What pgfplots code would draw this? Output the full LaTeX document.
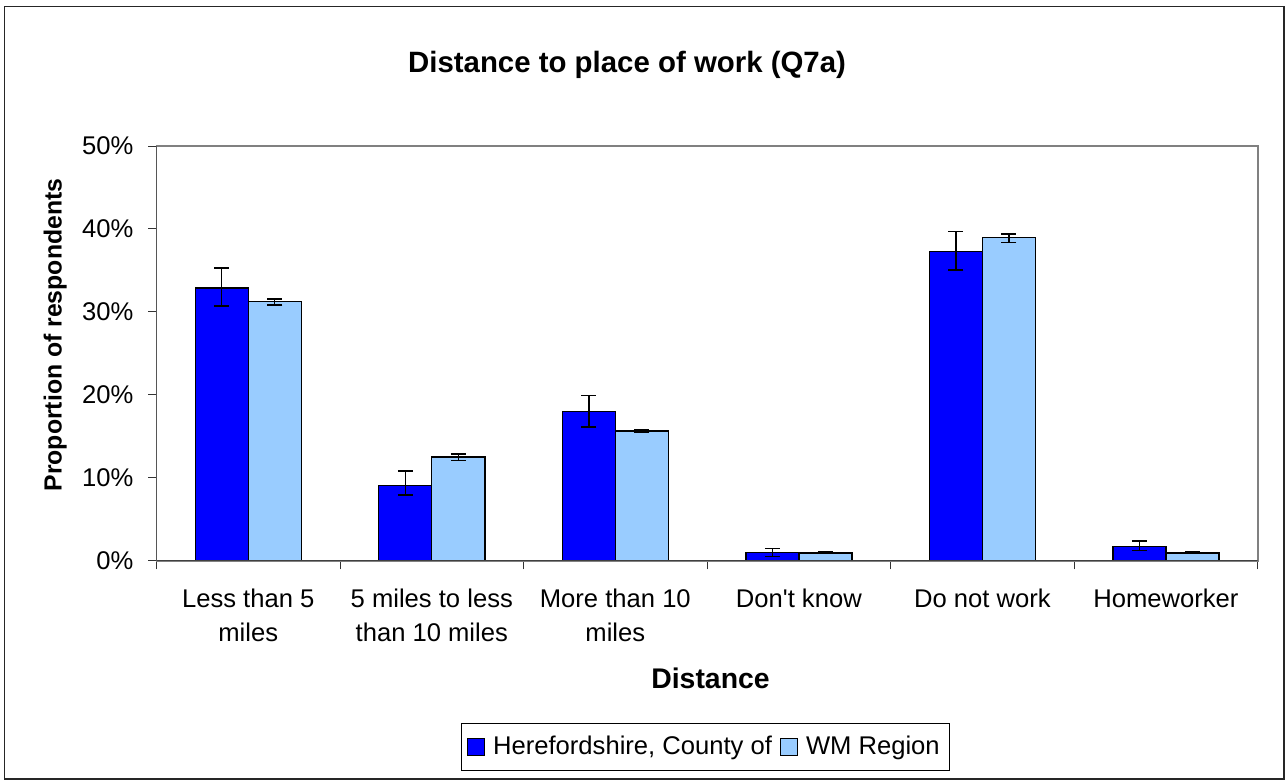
\documentclass[border=0pt]{standalone}
\usepackage{pgfplots}
\pgfplotsset{compat=1.18}
\usepackage{fontspec}
\setmainfont{Liberation Sans}
\definecolor{hblue}{HTML}{0000FF}
\definecolor{wmblue}{HTML}{99CCFF}
\definecolor{pgray}{HTML}{808080}
\begin{document}
\begin{tikzpicture}
\path (0,0) rectangle (643pt,391.5pt);
\draw[black!85, line width=0.6pt] (2.35pt,2pt) rectangle (642pt,388.15pt);
\begin{axis}[
  at={(78.25pt,111.15pt)}, anchor=south west,
  scale only axis, width=550.6pt, height=207.35pt,
  xmin=-0.5, xmax=5.5, ymin=0, ymax=50,
  ybar=0pt, bar width=0.289,
  xtick={0,...,5},
  xticklabels={{Less than 5\\miles},{5 miles to less\\than 10 miles},{More than 10\\miles},{Don\textquotesingle t know},{Do not work},{Homeworker}},
  minor xtick={-0.5,0.5,...,5.5},
  major x tick style={draw=none},
  ytick={0,10,...,50},
  yticklabels={0\%,10\%,20\%,30\%,40\%,50\%},
  tick align=outside, xtick pos=bottom, ytick pos=left,
  major tick length=4pt, minor tick length=4.3pt,
  tick style={black!80, line width=0.5pt},
  axis line style={draw=pgray, line width=0.8pt},
  tick label style={font=\fontsize{12.8}{15}\selectfont},
  yticklabel style={xshift=-4pt},
  xticklabel style={align=center, font=\fontsize{12.8}{17}\selectfont, yshift=-6.5pt},
  title={Distance to place of work (Q7a)},
  title style={at={(0.4273,1.149)}, anchor=base, font=\bfseries\fontsize{14.7}{17}\selectfont},
  xlabel={Distance},
  xlabel style={at={(0.5031,-0.307)}, anchor=base, font=\bfseries\fontsize{14.2}{17}\selectfont},
  ylabel={Proportion of respondents},
  ylabel style={at={(-0.0861,0.5443)}, anchor=base, font=\bfseries\fontsize{12.4}{15}\selectfont},
  legend columns=2,
  legend style={at={(0.4985,-0.449)}, anchor=center, draw=black, line width=0.6pt,
    font=\fontsize{12.8}{15}\selectfont, inner xsep=3pt, inner ysep=4.5pt,
    /tikz/every odd column/.append style={column sep=2pt},
    /tikz/every even column/.append style={column sep=2pt}},
  legend image code/.code={\draw[#1,/tikz/.cd,line width=0.5pt] (0pt,-4.25pt) rectangle (8.5pt,4.25pt);},
]
\addplot[fill=hblue, draw=black, line width=0.7pt,
  error bars/.cd, y dir=both, y explicit,
  error bar style={line width=0.7pt, black},
  error mark options={rotate=90, mark size=3.75pt, line width=0.7pt, black}]
  coordinates {
  (0,32.9) += (0,2.4) -= (0,2.2)
  (1,9.1)  += (0,1.7) -= (0,1.2)
  (2,18.0) += (0,1.95) -= (0,1.9)
  (3,1.0)  += (0,0.5) -= (0,0.5)
  (4,37.25) += (0,2.45) -= (0,2.2)
  (5,1.7)  += (0,0.7) -= (0,0.5)
  };
\addlegendentry{Herefordshire, County of}
\addplot[fill=wmblue, draw=black, line width=0.7pt,
  error bars/.cd, y dir=both, y explicit,
  error bar style={line width=0.7pt, black},
  error mark options={rotate=90, mark size=3.75pt, line width=0.7pt, black}]
  coordinates {
  (0,31.25) += (0,0.3) -= (0,0.4)
  (1,12.5)  += (0,0.35) -= (0,0.45)
  (2,15.65) += (0,0.2) -= (0,0.2)
  (3,0.95)  += (0,0.1) -= (0,0.1)
  (4,38.95) += (0,0.45) -= (0,0.55)
  (5,0.95)  += (0,0.1) -= (0,0.1)
  };
\addlegendentry{WM Region}
\draw[black!75, line width=0.6pt] (rel axis cs:0,1) -- (rel axis cs:0,0) -- (rel axis cs:1,0);
\end{axis}
\end{tikzpicture}
\end{document}
